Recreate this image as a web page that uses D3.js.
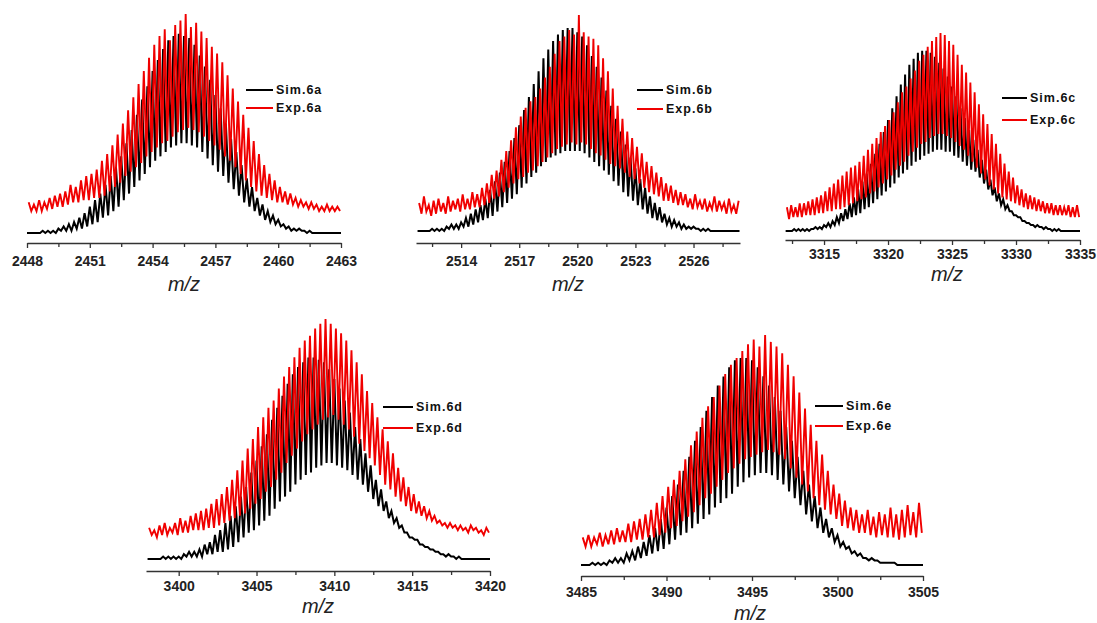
<!DOCTYPE html>
<html>
<head>
<meta charset="utf-8">
<script src="https://cdn.jsdelivr.net/npm/d3@7"></script>
<style>
    body { margin: 0; background: #fff; }
    svg text { font-family: "Liberation Sans", Arial, sans-serif; }
    .tick text { font-size: 14px; font-weight: bold; fill: #222; }
    .xlabel { font-size: 20px; font-style: italic; fill: #222; }
    .legend { font-size: 12.5px; font-weight: bold; letter-spacing: 1px; fill: #111; }
</style>
</head>
<body>
<div id="chart"></div>
<script>
// panel names (legend suffix)
const panelIds = ['6a', '6b', '6c', '6d', '6e'];

// m/z of the first isotope peak and peak spacing (1/charge)
const simStart = [2448, 2511.75, 3312, 3398, 3485];
const expStart = [2448.08, 2511.83, 3312.1, 3398.1, 3485.1];
const mzStep = [0.25, 0.25, 1 / 3, 1 / 3, 1 / 3];

const xDomains = [[2448, 2463], [2511.67, 2528.4], [3311.95, 3335], [3397.9, 3420], [3485, 3505]];

const majorTicks = [
    [2448, 2451, 2454, 2457, 2460, 2463],
    [2514, 2517, 2520, 2523, 2526],
    [3315, 3320, 3325, 3330, 3335],
    [3400, 3405, 3410, 3415, 3420],
    [3485, 3490, 3495, 3500, 3505]
];
const minorTicks = [
    [2449.5, 2452.5, 2455.5, 2458.5, 2461.5],
    [2512.5, 2515.5, 2518.5, 2521.5, 2524.5, 2527.5],
    [3312.5, 3317.5, 3322.5, 3327.5, 3332.5],
    [3402.5, 3407.5, 3412.5, 3417.5],
    [3487.5, 3492.5, 3497.5, 3502.5]
];

// relative intensity at each peak (top) and the valley after it (bot)
const sim6aTop = [0,0,0,1,1,1,2,3,4,5,7,9,12,15,18,22,26,30,35,41,47,54,61,67,74,79,84,88,90,91,90,89,86,81,76,70,63,57,50,43,37,31,25,21,16,13,10,8,6,4,3,2,2,1,1,0,0,0,0,0,0];
const sim6aBot = [0,0,0,0,0,0,1,1,1,2,2,3,4,5,7,8,10,12,15,18,21,24,27,30,33,35,37,39,40,41,41,40,39,37,34,31,28,26,23,20,17,14,12,10,8,6,5,4,3,2,1,1,1,0,0,0,0,0,0,0,0];
const exp6aTop = [14,13,15,14,16,17,18,19,22,21,24,26,27,29,33,36,40,45,50,56,62,68,74,80,86,90,93,88,95,97,100,94,96,92,89,85,82,78,72,66,60,54,48,42,36,31,27,24,21,19,18,16,15,14,14,13,12,13,12,12,13];
const exp6aBot = [10,10,10,11,11,12,12,13,14,14,15,15,16,16,17,19,21,23,26,28,30,32,35,37,39,41,42,44,46,47,48,47,46,44,42,40,38,35,33,30,27,24,21,19,17,16,15,14,14,13,13,12,12,11,11,10,10,10,10,10,10];

const sim6bTop = [0,0,0,1,1,1,2,3,3,4,6,8,10,12,15,19,23,27,32,37,43,49,56,62,68,74,80,84,88,91,93,94,94,92,90,86,81,76,71,65,58,52,46,40,34,29,24,20,16,13,11,8,6,5,4,3,2,2,1,1,1,0,0,0,0,0,0];
const sim6bBot = [0,0,0,0,0,0,1,1,1,2,2,3,4,5,6,7,9,11,13,15,17,20,22,25,27,30,32,34,35,36,37,37,37,37,36,34,32,30,28,26,23,21,18,16,14,12,10,8,6,5,4,3,2,2,1,1,1,1,0,0,0,0,0,0,0,0,0];
const exp6bTop = [13,16,12,14,15,13,16,14,15,17,15,18,17,20,22,26,28,33,37,42,48,53,57,60,62,66,71,76,82,88,90,93,91,100,92,90,89,86,80,74,66,58,52,46,43,39,36,32,30,27,25,22,21,19,18,17,15,17,14,15,13,16,14,13,15,12,14];
const exp6bBot = [8,9,7,8,9,8,9,10,9,10,10,11,11,12,13,15,16,18,20,22,24,25,27,28,30,32,34,36,38,39,40,41,40,41,40,38,36,35,33,31,30,29,27,25,24,22,20,18,17,16,14,14,13,12,12,11,10,11,10,9,10,9,10,8,9,8,9];

const sim6cTop = [0,0,1,1,1,1,1,2,2,3,4,5,7,9,11,14,17,21,25,29,34,39,44,50,56,62,68,74,79,84,87,90,91,91,90,88,85,82,78,73,68,62,57,51,46,41,36,31,26,22,19,16,13,10,8,7,5,4,3,3,2,2,1,1,1,0,0,0,0,0];
const sim6cBot = [0,0,0,0,0,0,1,1,1,2,2,3,4,5,6,7,8,9,11,12,14,16,18,20,22,24,27,29,31,33,35,36,38,39,40,41,41,40,40,38,37,35,33,31,30,27,24,21,18,15,13,11,10,8,7,5,4,3,2,2,1,1,0,0,0,0,0,0,0,0];
const exp6cTop = [12,13,12,14,14,15,16,17,18,20,22,24,26,28,30,32,33,35,38,41,44,47,50,53,56,60,65,70,73,77,81,86,89,93,96,98,100,99,96,94,89,84,80,75,70,64,59,54,49,44,39,34,30,27,23,21,19,18,17,16,15,14,14,13,13,12,13,12,13,12];
const exp6cBot = [6,7,7,7,8,8,8,9,9,10,10,11,11,12,13,14,15,16,17,19,20,22,24,26,28,31,33,35,38,40,42,44,45,47,48,49,49,48,47,45,43,41,38,35,32,29,26,23,21,19,17,16,15,14,13,12,11,11,10,10,9,9,8,8,8,8,7,7,7,7];

const sim6dTop = [0,0,0,1,1,1,1,2,3,3,4,6,7,10,12,15,18,22,26,30,36,41,47,52,58,63,68,73,77,80,82,84,84,83,82,79,75,71,66,61,55,50,44,39,33,29,24,20,17,14,11,9,8,6,5,4,3,2,2,1,1,0,0,0,0,0,0];
const sim6dBot = [0,0,0,0,0,0,0,1,1,1,1,2,2,3,3,4,5,7,9,11,12,14,16,18,21,24,26,28,31,33,35,36,38,39,40,40,39,38,37,35,33,31,28,25,22,20,17,15,13,11,9,8,6,5,4,3,2,1,1,0,0,0,0,0,0,0,0];
const exp6dTop = [13,12,14,15,13,15,17,16,18,19,20,21,23,25,27,30,33,37,41,46,50,55,59,63,66,71,76,80,84,88,91,93,96,98,100,98,96,94,91,87,82,77,70,65,59,54,49,44,38,34,30,27,24,22,20,18,16,15,15,14,14,13,14,13,12,13,12];
const exp6dBot = [10,9,10,10,11,10,11,11,12,12,12,13,13,14,15,16,17,18,19,21,23,25,28,30,33,36,40,43,46,49,52,54,56,58,59,60,58,56,54,51,48,45,42,39,35,31,29,26,24,22,20,19,18,17,16,15,14,13,13,12,12,11,12,11,10,11,10];

const sim6eTop = [0,0,1,1,1,2,3,3,5,6,8,10,13,16,20,25,30,35,41,47,54,60,67,73,78,82,86,89,90,90,89,86,82,78,73,67,60,54,47,41,35,30,25,20,16,13,10,8,6,5,3,3,2,1,1,1,0,0,0,0,0];
const sim6eBot = [0,0,0,0,0,1,1,1,2,2,3,4,5,6,7,9,11,13,14,16,18,20,22,25,27,29,31,34,36,38,39,40,40,39,37,35,32,29,26,22,19,16,14,12,10,8,7,5,4,3,2,2,1,1,1,0,0,0,0,0,0];
const exp6eTop = [12,13,12,14,13,15,16,15,18,19,20,22,24,27,30,34,37,41,46,52,58,64,69,73,78,83,87,90,93,96,98,95,100,97,95,92,87,82,75,68,61,54,48,41,35,31,28,25,24,22,24,21,23,22,25,22,24,26,23,27,25];
const exp6eBot = [8,8,9,8,9,9,10,10,10,11,11,12,12,13,14,16,17,19,21,23,26,29,31,34,37,40,42,44,46,47,48,49,50,49,48,46,42,38,35,32,29,26,24,22,20,17,16,15,14,14,13,12,13,12,12,11,12,13,12,14,14];

const simTops = [sim6aTop, sim6bTop, sim6cTop, sim6dTop, sim6eTop];
const simBots = [sim6aBot, sim6bBot, sim6cBot, sim6dBot, sim6eBot];
const expTops = [exp6aTop, exp6bTop, exp6cTop, exp6dTop, exp6eTop];
const expBots = [exp6aBot, exp6bBot, exp6cBot, exp6dBot, exp6eBot];

// pixel placement of each panel
const layout = [
    { x0: 27, x1: 341, axisY: 243, base: 233, top: 14, pad: 8, lab: [184, 284], leg: [246, 273, 90, 108] },
    { x0: 416, x1: 740, axisY: 243, base: 231, top: 15, pad: 8, lab: [568, 284], leg: [637, 663, 90, 109] },
    { x0: 785, x1: 1080, axisY: 240, base: 231, top: 33, pad: 4, lab: [947, 274], leg: [1002, 1027, 98, 120] },
    { x0: 146, x1: 490, axisY: 571, base: 559, top: 319, pad: 5, lab: [318, 606], leg: [383, 413, 407, 428] },
    { x0: 581, x1: 923, axisY: 576, base: 565, top: 335, pad: 6, lab: [750, 613], leg: [815, 843, 406, 426] }
];

const width = 1097;
const height = 623;

const svg = d3.select("#chart")
    .append("svg")
    .attr("width", width)
    .attr("height", height);

// peaks and valleys as one zigzag
const zigzag = (start, step, tops, bots, domain) => {
    const pts = [];
    tops.forEach((t, k) => {
        pts.push({ x: start + k * step, y: t });
        pts.push({ x: start + (k + 0.5) * step, y: bots[k] });
    });
    return pts.filter(p => p.x >= domain[0] && p.x <= domain[1]);
};

panelIds.forEach((id, i) => {
    const L = layout[i];
    const xScale = d3.scaleLinear().domain(xDomains[i]).range([L.x0, L.x1]);
    const yScale = d3.scaleLinear().domain([0, 100]).range([L.base, L.top]);
    const g = svg.append("g");

    const line = d3.line()
        .x(d => xScale(d.x))
        .y(d => yScale(d.y));

    g.append("path")
        .datum(zigzag(simStart[i], mzStep[i], simTops[i], simBots[i], xDomains[i]))
        .attr("d", line)
        .attr("fill", "none")
        .attr("stroke", "#000")
        .attr("stroke-width", 2);

    g.append("path")
        .datum(zigzag(expStart[i], mzStep[i], expTops[i], expBots[i], xDomains[i]))
        .attr("d", line)
        .attr("fill", "none")
        .attr("stroke", "#f00000")
        .attr("stroke-width", 1.9);

    // x axis
    const axis = g.append("g")
        .attr("transform", `translate(0,${L.axisY})`)
        .call(d3.axisBottom(xScale).tickValues(majorTicks[i]).tickSize(5)
            .tickSizeOuter(0).tickPadding(L.pad).tickFormat(d3.format("d")));
    axis.select(".domain").attr("stroke", "#333").attr("stroke-width", 1.5);
    axis.selectAll(".tick line").attr("stroke", "#333").attr("stroke-width", 1.3);

    const minor = g.append("g")
        .attr("transform", `translate(0,${L.axisY})`)
        .call(d3.axisBottom(xScale).tickValues(minorTicks[i]).tickSize(4).tickFormat(""));
    minor.select(".domain").remove();
    minor.selectAll(".tick line").attr("stroke", "#333").attr("stroke-width", 1.3);

    g.append("text")
        .attr("class", "xlabel")
        .attr("x", L.lab[0])
        .attr("y", L.lab[1])
        .attr("text-anchor", "middle")
        .attr("dominant-baseline", "central")
        .text("m/z");

    // legend
    const legendItems = [["Sim." + id, "#000", L.leg[2]], ["Exp." + id, "#f00000", L.leg[3]]];
    legendItems.forEach(item => {
        g.append("line")
            .attr("x1", L.leg[0]).attr("x2", L.leg[1])
            .attr("y1", item[2]).attr("y2", item[2])
            .attr("stroke", item[1])
            .attr("stroke-width", 2);
        g.append("text")
            .attr("class", "legend")
            .attr("x", L.leg[1] + 3)
            .attr("y", item[2])
            .attr("dominant-baseline", "central")
            .text(item[0]);
    });
});
</script>
</body>
</html>
